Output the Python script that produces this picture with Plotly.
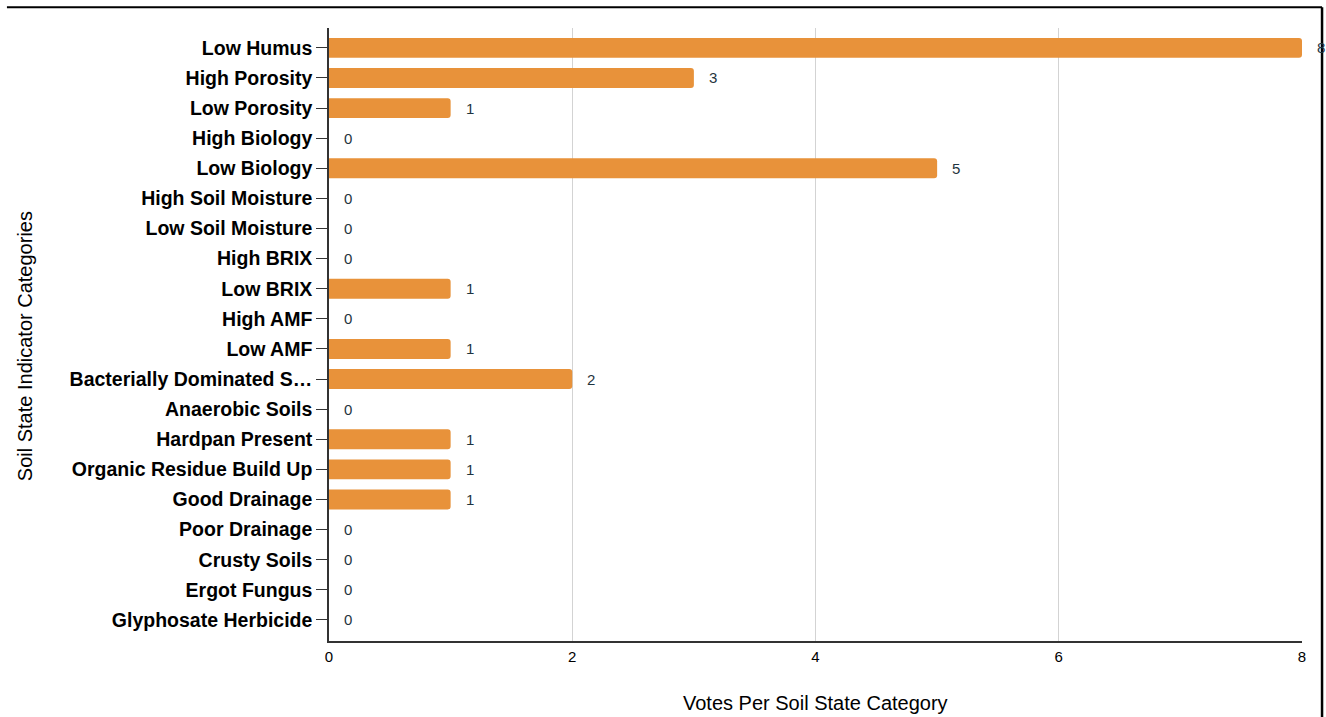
import plotly.graph_objects as go

categories = [
    "Low Humus", "High Porosity", "Low Porosity", "High Biology", "Low Biology",
    "High Soil Moisture", "Low Soil Moisture", "High BRIX", "Low BRIX", "High AMF",
    "Low AMF", "Bacterially Dominated S…", "Anaerobic Soils", "Hardpan Present",
    "Organic Residue Build Up", "Good Drainage", "Poor Drainage", "Crusty Soils",
    "Ergot Fungus", "Glyphosate Herbicide",
]
votes = [8, 3, 1, 0, 5, 0, 0, 0, 1, 0, 1, 2, 0, 1, 1, 1, 0, 0, 0, 0]
x_ticks = [0, 2, 4, 6, 8]
x_title = "Votes Per Soil State Category"
y_title = "Soil State Indicator Categories"

FONT = "Liberation Sans, Arial, Helvetica"

fig = go.Figure(go.Bar(
    x=votes, y=categories, orientation="h",
    marker=dict(color="#E8923A", cornerradius=3, line=dict(width=0)),
    width=0.66, hoverinfo="x+y",
))

for c, v in zip(categories, votes):
    fig.add_annotation(x=v, y=c, text=str(v), showarrow=False, xanchor="left",
                       xshift=13, font=dict(family=FONT, size=15, color="#1f3540"))

# axis titles
fig.add_annotation(xref="paper", yref="paper", x=0.5, y=-0.101, text=x_title, showarrow=False,
                   xanchor="center", yanchor="middle", font=dict(family=FONT, size=20, color="black"))
fig.add_annotation(xref="paper", yref="paper", x=-0.3124, y=0.481, text=y_title, showarrow=False,
                   textangle=-90, xanchor="center", yanchor="middle",
                   font=dict(family=FONT, size=20, color="black"))

fig.update_layout(
    width=1326, height=717,
    margin=dict(l=329, r=24, t=28, b=76),
    paper_bgcolor="white", plot_bgcolor="white",
    showlegend=False,
    font=dict(family=FONT, color="black"),
    xaxis=dict(
        automargin=False,
        range=[0, 8], tickvals=x_ticks, ticktext=[str(t) for t in x_ticks],
        showgrid=True, gridcolor="#d3d3d3", gridwidth=1,
        showline=True, linecolor="#333333", linewidth=1.5,
        zeroline=False, ticks="", tickfont=dict(size=15, color="black"),
        ticklabelstandoff=1,
    ),
    yaxis=dict(
        automargin=False,
        categoryorder="array", categoryarray=categories,
        range=[19.7, -0.66],
        showline=True, linecolor="#333333", linewidth=1.5,
        ticks="outside", ticklen=11, tickcolor="#333333",
        tickfont=dict(size=19.5, color="black", family=FONT, weight="bold"),
        showgrid=False,
    ),
)

# frame lines from the screenshot border
fig.add_shape(type="line", xref="paper", yref="paper", x0=-0.331, x1=1.0206, y0=1.034, y1=1.034,
              line=dict(color="black", width=2))
fig.add_shape(type="line", xref="paper", yref="paper", x0=1.0206, x1=1.0206, y0=1.034, y1=-0.13,
              line=dict(color="black", width=2.5))

fig.write_html("out.html", config={"displayModeBar": False},
               post_script="document.body.style.margin='0px';")
